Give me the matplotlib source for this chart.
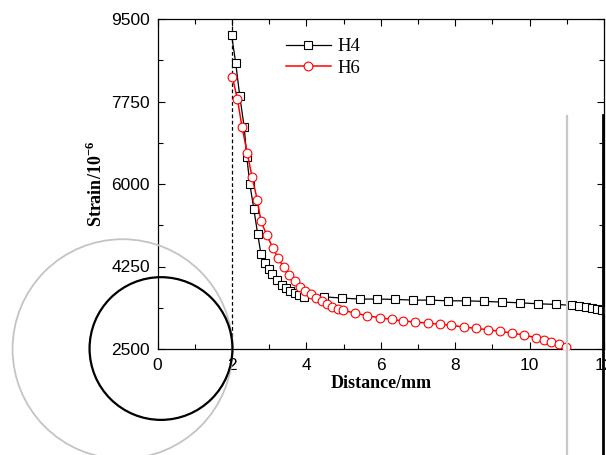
import matplotlib
matplotlib.use("Agg")
import matplotlib.pyplot as plt
from matplotlib.patches import Ellipse

# strain profiles (distance in mm, strain in 1e-6)
h4_x = [1.99, 2.10, 2.21, 2.33, 2.40, 2.48, 2.59, 2.69, 2.78, 2.89, 2.99, 3.09,
        3.21, 3.34, 3.45, 3.56, 3.69, 3.80, 3.94, 4.48, 4.95, 5.44, 5.91, 6.39,
        6.86, 7.33, 7.81, 8.29, 8.77, 9.25, 9.74, 10.22, 10.70, 11.15, 11.33,
        11.51, 11.67, 11.82, 11.95]
h4_y = [9168, 8576, 7871, 7206, 6571, 6008, 5464, 4949, 4518, 4321, 4194, 4088,
        3961, 3855, 3791, 3734, 3679, 3637, 3607, 3607, 3580, 3559, 3559, 3552,
        3537, 3537, 3522, 3522, 3510, 3495, 3480, 3459, 3446, 3425, 3404,
        3383, 3368, 3347, 3326]

h6_x = [2.01, 2.15, 2.27, 2.41, 2.54, 2.68, 2.78, 2.94, 3.10, 3.25, 3.39, 3.53,
        3.69, 3.83, 3.97, 4.12, 4.27, 4.41, 4.56, 4.70, 4.84, 4.99, 5.31, 5.64,
        5.97, 6.29, 6.61, 6.93, 7.26, 7.58, 7.90, 8.23, 8.56, 8.88, 9.20, 9.52,
        9.85, 10.17, 10.38, 10.58, 10.78, 10.98]
h6_y = [8279, 7793, 7215, 6664, 6152, 5669, 5210, 4913, 4645, 4420, 4230, 4060,
        3940, 3819, 3734, 3658, 3580, 3516, 3453, 3395, 3353, 3319, 3262, 3205,
        3163, 3129, 3093, 3072, 3050, 3023, 3002, 2966, 2938, 2909, 2875, 2839,
        2796, 2739, 2697, 2655, 2599, 2549]

x_ticks = [0, 2, 4, 6, 8, 10, 12]
y_ticks = [2500, 4250, 6000, 7750, 9500]

plt.rcParams["mathtext.fontset"] = "custom"
plt.rcParams["mathtext.rm"] = "Liberation Serif"
plt.rcParams["mathtext.bf"] = "Liberation Serif:bold"

fig = plt.figure(figsize=(6.06, 4.55), dpi=100)
ax = fig.add_axes([157.5 / 606, 106 / 455, 446.5 / 606, 330 / 455])

ax.axvline(2, color="k", lw=0.9, ls=(0, (3, 2)), zorder=1)

ax.plot(h4_x, h4_y, color="k", lw=0.9, marker="s", ms=5.6, mfc="white",
        mec="k", mew=0.8, label="H4", zorder=3)
ax.plot(h6_x, h6_y, color="red", lw=1.1, marker="o", ms=6.3, mfc="white",
        mec="red", mew=0.8, label="H6", zorder=4)

ax.set_xlim(0, 12)
ax.set_ylim(2500, 9500)
ax.set_xticks(x_ticks)
ax.set_xticks(range(1, 12, 2), minor=True)
ax.set_yticks(y_ticks)
ax.set_yticks([3375, 5125, 6875, 8625], minor=True)
ax.tick_params(which="both", direction="in", top=True, right=True,
               labelsize=12.5, width=0.8)
ax.tick_params(which="major", length=5)
ax.tick_params(which="minor", length=3.5)
ax.tick_params(axis="x", pad=6.5)
ax.tick_params(axis="y", pad=5.5)
for lab in ax.get_xticklabels() + ax.get_yticklabels():
    lab.set_family("Liberation Sans")
for sp in ax.spines.values():
    sp.set_linewidth(0.9)

ax.set_xlabel("Distance/mm", family="Liberation Serif", fontweight="bold",
              fontsize=13, labelpad=1.5)
ax.set_ylabel(r"$\mathbf{Strain/10}^{\mathbf{-6}}$", fontsize=13, labelpad=4)

leg = ax.legend(loc="upper left", bbox_to_anchor=(0.27, 0.965), frameon=False,
                prop={"family": "Liberation Serif", "size": 13.5},
                handlelength=2.4, handletextpad=0.35, labelspacing=0.25,
                borderaxespad=0)

# overlaid schematic: two circles and two vertical bars
ax.add_patch(Ellipse((-0.94, 2500), 5.91, 4657, fill=False, ec="#c4c4c4",
                     lw=1.3, clip_on=False, zorder=5))
ax.add_patch(Ellipse((0.094, 2510), 3.84, 3027, fill=False, ec="k",
                     lw=1.6, clip_on=False, zorder=6))
ax.plot([11.0, 11.0], [7433, 0], color="#c8c8c8", lw=1.6, clip_on=False,
        zorder=5)
ax.plot([11.96, 11.96], [7454, 0], color="k", lw=2.0, clip_on=False, zorder=6)

fig.savefig("out.png", dpi=100)
